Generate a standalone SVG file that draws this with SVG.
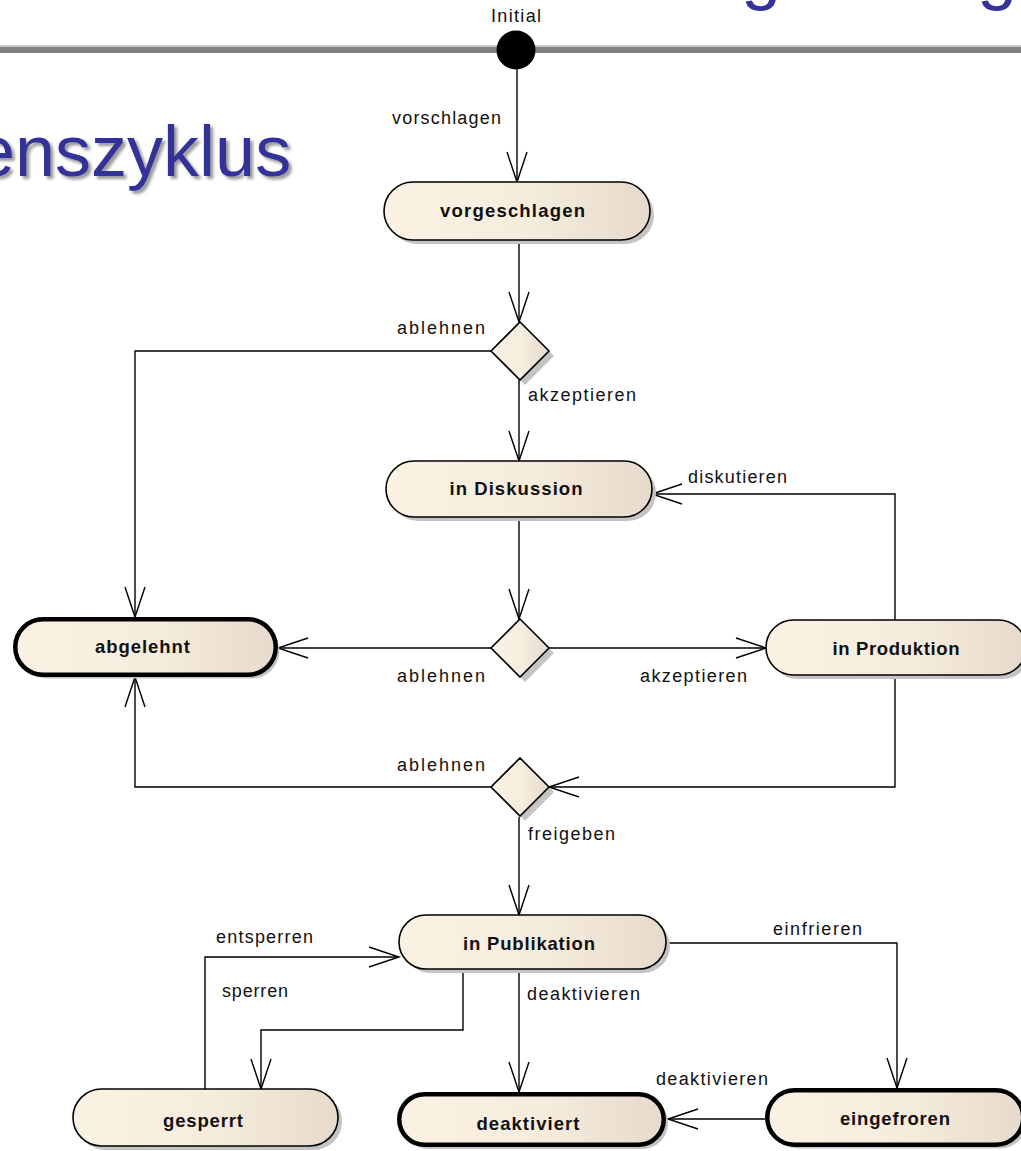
<svg xmlns="http://www.w3.org/2000/svg" width="1021" height="1151" viewBox="0 0 1021 1151">
<style>
.lbl{font-family:"Liberation Sans",Arial,sans-serif;font-size:18px;fill:#111}
.nt{font-family:"Liberation Sans",Arial,sans-serif;font-size:18.5px;font-weight:bold;fill:#111;text-anchor:middle}
.st{fill:url(#ng);stroke:#000;stroke-width:1.6}
.fin{fill:url(#ng);stroke:#000;stroke-width:4.5}
.sh{fill:#c4c4c4}
.con{fill:none;stroke:#000;stroke-width:1.4}
.ttl{font-family:"Liberation Sans",Arial,sans-serif;font-size:72px;fill:#333399}
</style>
<defs>
<linearGradient id="ng" x1="0" y1="0" x2="1" y2="0">
<stop offset="0" stop-color="#fbf2e4"/>
<stop offset="0.55" stop-color="#f6ecdd"/>
<stop offset="1" stop-color="#e5dacb"/>
</linearGradient>
<filter id="tshadow" x="-5%" y="-10%" width="115%" height="130%">
<feDropShadow dx="3" dy="3" stdDeviation="1.5" flood-color="#808080" flood-opacity="0.8"/>
</filter>
<marker id="arr" markerUnits="userSpaceOnUse" markerWidth="40" markerHeight="30" viewBox="0 0 40 30" refX="31" refY="11" orient="auto">
<path d="M1 1 L31 11 L1 21" fill="none" stroke="#000" stroke-width="1.4"/>
</marker>
</defs>
<rect width="1021" height="1151" fill="#fff"/>
<g id="header">
<rect x="0" y="45" width="1021" height="2" fill="#c8c8c8"/>
<rect x="0" y="47" width="1021" height="6" fill="#808080"/>
<text class="ttl" x="-25" y="176" filter="url(#tshadow)">enszyklus</text>
<text class="ttl" x="741" y="-4">g</text>
<text class="ttl" x="977" y="-4">g</text>
</g>
<g id="connectors">
<path class="con" d="M517 69 V182" marker-end="url(#arr)"/>
<path class="con" d="M519 240 V322" marker-end="url(#arr)"/>
<path class="con" d="M491 351 H135 V617" marker-end="url(#arr)"/>
<path class="con" d="M519 380 V461" marker-end="url(#arr)"/>
<path class="con" d="M519 517 V619" marker-end="url(#arr)"/>
<path class="con" d="M491 648 H278" marker-end="url(#arr)"/>
<path class="con" d="M549 648 H766" marker-end="url(#arr)"/>
<path class="con" d="M895 620 V494 H652" marker-end="url(#arr)"/>
<path class="con" d="M895 675 V787 H549" marker-end="url(#arr)"/>
<path class="con" d="M491 787 H135 V677" marker-end="url(#arr)"/>
<path class="con" d="M519 817 V915" marker-end="url(#arr)"/>
<path class="con" d="M205 1089 V957 H399" marker-end="url(#arr)"/>
<path class="con" d="M463 969 V1030 H261 V1089" marker-end="url(#arr)"/>
<path class="con" d="M519 969 V1092" marker-end="url(#arr)"/>
<path class="con" d="M666 943 H897 V1088" marker-end="url(#arr)"/>
<path class="con" d="M765 1119 H668" marker-end="url(#arr)"/>
<text class="lbl" x="392" y="124" textLength="109">vorschlagen</text>
<text class="lbl" x="397" y="334" textLength="88">ablehnen</text>
<text class="lbl" x="528" y="401" textLength="108">akzeptieren</text>
<text class="lbl" x="688" y="483" textLength="99">diskutieren</text>
<text class="lbl" x="397" y="682" textLength="88">ablehnen</text>
<text class="lbl" x="640" y="682" textLength="107">akzeptieren</text>
<text class="lbl" x="397" y="771" textLength="88">ablehnen</text>
<text class="lbl" x="528" y="840" textLength="87">freigeben</text>
<text class="lbl" x="216" y="943" textLength="97">entsperren</text>
<text class="lbl" x="773" y="935" textLength="89">einfrieren</text>
<text class="lbl" x="222" y="997" textLength="66">sperren</text>
<text class="lbl" x="527" y="1000" textLength="113">deaktivieren</text>
<text class="lbl" x="656" y="1085" textLength="112">deaktivieren</text>
</g>
<g id="initial">
<circle cx="516" cy="50" r="19.5" fill="#000"/>
<text class="lbl" x="516" y="22" text-anchor="middle" textLength="50">Initial</text>
</g>
<g id="vorgeschlagen">
<rect class="sh" x="388" y="186" width="266" height="58" rx="29"/>
<rect class="st" x="384" y="182" width="266" height="58" rx="29"/>
<text class="nt" x="512.5" y="217" textLength="145">vorgeschlagen</text>
</g>
<g id="decision1">
<path class="sh" d="M525 327 L554 356 L525 385 L496 356 Z"/>
<path class="st" d="M520 322 L549 351 L520 380 L491 351 Z"/>
</g>
<g id="inDiskussion">
<rect class="sh" x="390" y="465" width="266" height="56" rx="28"/>
<rect class="st" x="386" y="461" width="266" height="56" rx="28"/>
<text class="nt" x="516" y="495" textLength="133">in Diskussion</text>
</g>
<g id="abgelehnt">
<rect class="sh" x="19" y="623" width="260.5" height="55.5" rx="27.75"/>
<rect class="fin" x="15.25" y="619.25" width="260.5" height="55.5" rx="27.75"/>
<text class="nt" x="142.5" y="653" textLength="95">abgelehnt</text>
</g>
<g id="decision2">
<path class="sh" d="M525 624 L554 653 L525 682 L496 653 Z"/>
<path class="st" d="M520 619 L549 648 L520 677 L491 648 Z"/>
</g>
<g id="inProduktion">
<rect class="sh" x="770" y="624" width="260" height="55" rx="27.5"/>
<rect class="st" x="766" y="620" width="260" height="55" rx="27.5"/>
<text class="nt" x="896" y="655" textLength="127">in Produktion</text>
</g>
<g id="decision3">
<path class="sh" d="M525 763 L554 792 L525 821 L496 792 Z"/>
<path class="st" d="M520 758 L549 787 L520 816 L491 787 Z"/>
</g>
<g id="inPublikation">
<rect class="sh" x="403" y="919" width="267" height="54" rx="27"/>
<rect class="st" x="399" y="915" width="267" height="54" rx="27"/>
<text class="nt" x="529" y="950" textLength="132">in Publikation</text>
</g>
<g id="gesperrt">
<rect class="sh" x="77" y="1093" width="265" height="57" rx="28.5"/>
<rect class="st" x="73" y="1089" width="265" height="57" rx="28.5"/>
<text class="nt" x="203" y="1127" textLength="80">gesperrt</text>
</g>
<g id="deaktiviert">
<rect class="sh" x="403" y="1098" width="265" height="51" rx="25.5"/>
<rect class="fin" x="399.25" y="1094.25" width="264.5" height="50.5" rx="25.25"/>
<text class="nt" x="528" y="1130" textLength="103">deaktiviert</text>
</g>
<g id="eingefroren">
<rect class="sh" x="771" y="1094" width="256" height="54.5" rx="27.25"/>
<rect class="fin" x="767.25" y="1090.25" width="256" height="54.5" rx="27.25"/>
<text class="nt" x="895" y="1125" textLength="110">eingefroren</text>
</g>
</svg>
